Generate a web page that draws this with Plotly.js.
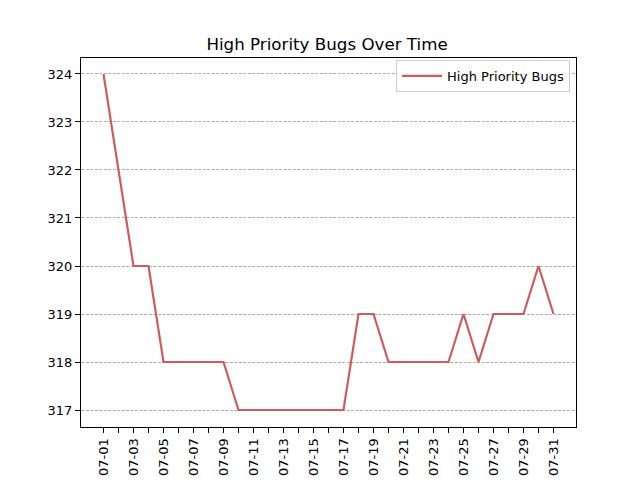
<!DOCTYPE html>
<html>
<head>
<meta charset="utf-8">
<script src="https://cdn.plot.ly/plotly-3.0.1.min.js"></script>
<style>body{margin:0;padding:0;background:#fff}#chart{width:640px;height:480px}</style>
</head>
<body>
<div id="chart"></div>
<script>
var dates = ["07-01","07-02","07-03","07-04","07-05","07-06","07-07","07-08","07-09","07-10",
  "07-11","07-12","07-13","07-14","07-15","07-16","07-17","07-18","07-19","07-20",
  "07-21","07-22","07-23","07-24","07-25","07-26","07-27","07-28","07-29","07-30","07-31"];
var bugs = [324,322,320,320,318,318,318,318,318,317,
  317,317,317,317,317,317,317,319,319,318,
  318,318,318,318,319,318,319,319,319,320,319];
var tickLabels = dates.map(function(d, i){ return i % 2 === 0 ? d : ""; });
var yTicks = [317,318,319,320,321,322,323,324];

var trace = {
  x: dates, y: bugs, type: "scatter", mode: "lines",
  name: "High Priority Bugs",
  line: {color: "#cd5c5c", width: 2.2}
};
var layout = {
  width: 640, height: 480,
  margin: {l: 81, r: 64, t: 58, b: 53},
  paper_bgcolor: "#fff", plot_bgcolor: "#fff",
  font: {family: "DejaVu Sans", size: 13, color: "#000"},
  title: {text: "High Priority Bugs Over Time", font: {size: 16.7, color: "#000"}, x: 0.511, xanchor: "center", y: 0.908, yanchor: "middle"},
  showlegend: true,
  legend: {x: 0.988, xanchor: "right", y: 0.995, yanchor: "top", bordercolor: "#cccccc", borderwidth: 1, bgcolor: "rgba(255,255,255,0.8)", font: {size: 13}, itemwidth: 40},
  xaxis: {
    type: "category", range: [-1.5, 30 + 1.5],
    tickmode: "array", tickvals: dates, ticktext: tickLabels, tickangle: -90,
    ticks: "outside", ticklen: 5, tickcolor: "#000", showgrid: false, zeroline: false,
    showline: true, linecolor: "#000", linewidth: 1, mirror: true, tickfont: {size: 13}
  },
  yaxis: {
    range: [316.646, 324.333], tickmode: "array", tickvals: yTicks,
    ticks: "outside", ticklen: 5, tickcolor: "#000",
    showgrid: true, gridcolor: "#b0b0b0", griddash: "3px,1.5px", gridwidth: 0.8, zeroline: false,
    showline: true, linecolor: "#000", linewidth: 1, mirror: true, tickfont: {size: 13}
  }
};
Plotly.newPlot("chart", [trace], layout, {displayModeBar: false});
</script>
</body>
</html>
